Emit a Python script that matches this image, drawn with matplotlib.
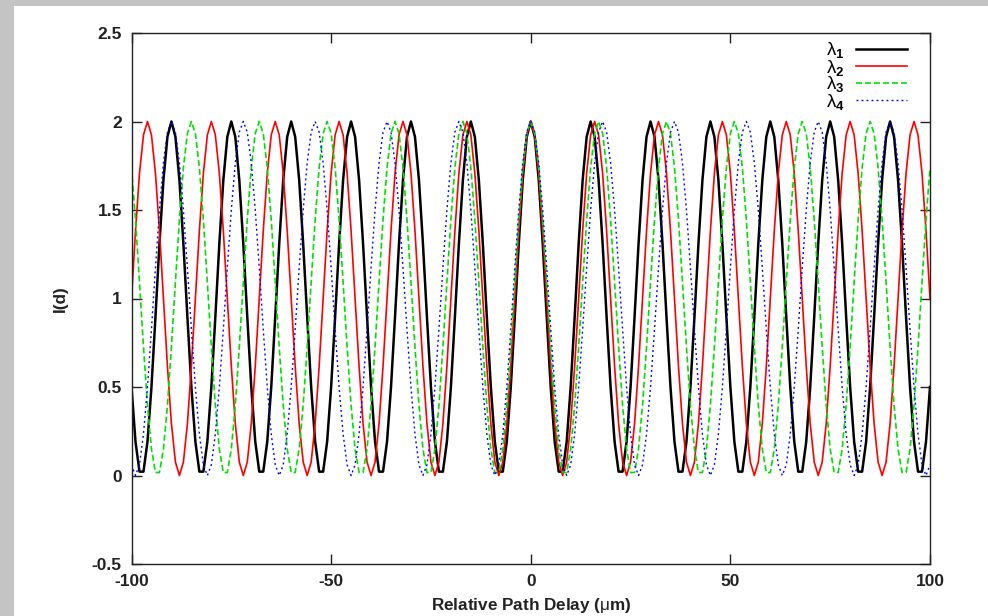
import numpy as np
import matplotlib.pyplot as plt
from matplotlib.patches import Rectangle

# wavelengths of the four sources (um) and the sampled path delays (um)
wavelengths = [15, 16, 17, 18]
labels = [r"$\mathrm{\lambda}_\mathbf{1}$", r"$\mathrm{\lambda}_\mathbf{2}$",
          r"$\mathrm{\lambda}_\mathbf{3}$", r"$\mathrm{\lambda}_\mathbf{4}$"]
delays = np.arange(-100, 101, 1)

x_ticks = [-100, -50, 0, 50, 100]
y_ticks = [-0.5, 0, 0.5, 1, 1.5, 2, 2.5]
y_tick_labels = ["-0.5", "0", "0.5", "1", "1.5", "2", "2.5"]

colors = ["black", "#ff0000", "#00e000", "#0000ff"]
widths = [1.8, 1.2, 1.2, 1.0]
styles = ["-", "-", (0, (3.6, 1.8)), (0, (1.4, 2.2))]

plt.rcParams["font.family"] = ["Liberation Sans", "DejaVu Sans"]
plt.rcParams["mathtext.fontset"] = "custom"
plt.rcParams["mathtext.rm"] = "Liberation Sans"
plt.rcParams["mathtext.bf"] = "Liberation Sans:bold"
plt.rcParams["mathtext.it"] = "Liberation Sans:italic"

fig = plt.figure(figsize=(9.88, 6.16), dpi=100)
fig.patch.set_facecolor("#c4c4c4")
fig.patches.append(Rectangle((14 / 988, 0), 1, 1 - 6 / 616, transform=fig.transFigure,
                             facecolor="white", edgecolor="none", zorder=-1))

ax = fig.add_axes([131.5 / 988, 1 - 564 / 616, (930 - 131.5) / 988, (564 - 33) / 616])

for lam, lab, c, w, s in zip(wavelengths, labels, colors, widths, styles):
    intensity = 1 + np.cos(2 * np.pi * delays / lam)
    ax.plot(delays, intensity, color=c, lw=w, linestyle=s, label=lab)

ax.set_xlim(-100, 100)
ax.set_ylim(-0.5, 2.5)
ax.set_xticks(x_ticks)
ax.set_xticklabels([str(t) for t in x_ticks])
ax.set_yticks(y_ticks)
ax.set_yticklabels(y_tick_labels)
ax.tick_params(direction="in", length=7, width=1, top=True, right=True,
               labelsize=12.5, pad=7, colors="#222222")
for lbl in ax.get_xticklabels() + ax.get_yticklabels():
    lbl.set_fontweight("bold")
for sp in ax.spines.values():
    sp.set_linewidth(1.0)
    sp.set_color("#222222")

ax.set_xlabel(r"Relative Path Delay ($\mathrm{\mu}$m)", fontsize=12.3, fontweight="bold",
              labelpad=5, color="#222222")
ax.set_ylabel("I(d)", fontsize=12.3, fontweight="bold", labelpad=17, color="#222222")

leg = ax.legend(loc="upper right", bbox_to_anchor=(0.981, 1.0), frameon=False,
                markerfirst=False, fontsize=13.5, handlelength=2.72, handletextpad=0.64,
                labelspacing=-0.16, borderaxespad=0.0)

fig.savefig("out.png", dpi=100)
